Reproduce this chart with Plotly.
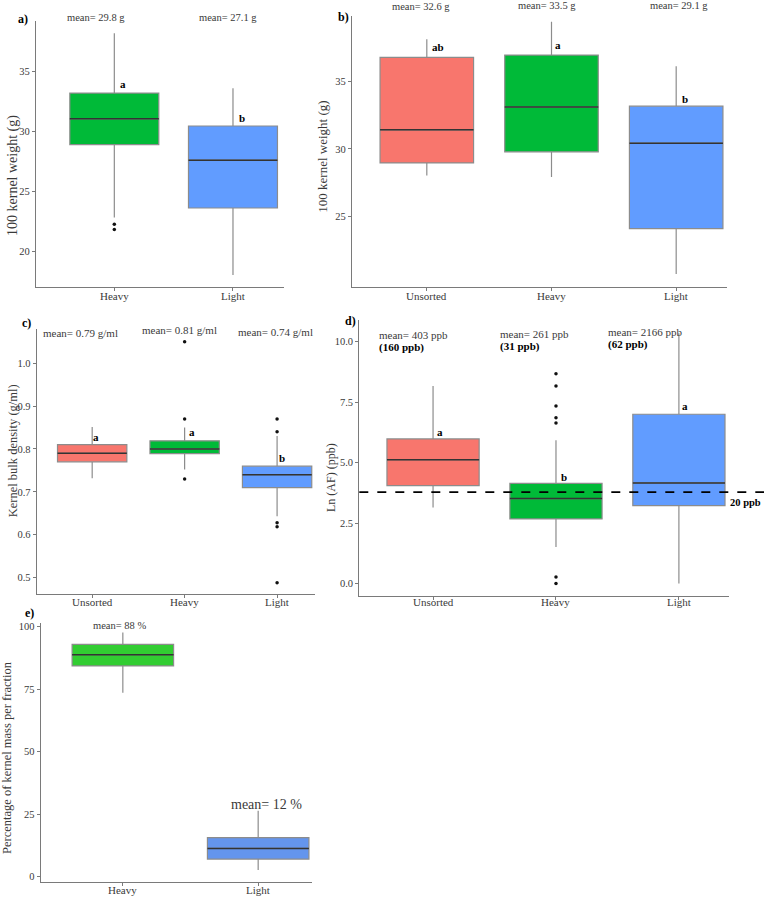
import plotly.graph_objects as go

W, H = 764, 899
def px(x): return x / W
def py(y): return 1 - y / H

FONT = "Liberation Serif"
GRAY = "#8c8c8c"
AXC = "#7a7a7a"
MEDC = "#333333"
TXT = "#3a3a3a"

# ---------------- data ----------------
# a) 100 kernel weight (g)
a_cats = ["Heavy", "Light"]
a_q1 = [28.9, 23.6]
a_med = [31.05, 27.6]
a_q3 = [33.2, 30.45]
a_lo = [22.8, 18.0]
a_hi = [38.2, 33.6]
a_out = [[22.25, 21.8], []]
a_means = ["mean= 29.8 g", "mean= 27.1 g"]
a_letters = ["a", "b"]

# b) 100 kernel weight (g)
b_cats = ["Unsorted", "Heavy", "Light"]
b_q1 = [28.96, 29.78, 24.11]
b_med = [31.4, 33.08, 30.42]
b_q3 = [36.75, 36.92, 33.15]
b_lo = [28.03, 27.93, 20.76]
b_hi = [38.08, 39.38, 36.09]
b_out = [[], [], []]
b_means = ["mean= 32.6 g", "mean= 33.5 g", "mean= 29.1 g"]
b_letters = ["ab", "a", "b"]

# c) Kernel bulk density (g/ml)
c_cats = ["Unsorted", "Heavy", "Light"]
c_q1 = [0.77, 0.789, 0.71]
c_med = [0.79, 0.80, 0.74]
c_q3 = [0.81, 0.819, 0.76]
c_lo = [0.732, 0.752, 0.643]
c_hi = [0.851, 0.85, 0.83]
c_out = [[], [1.05, 0.87, 0.73], [0.87, 0.84, 0.628, 0.619, 0.488]]
c_means = ["mean= 0.79 g/ml", "mean= 0.81 g/ml", "mean= 0.74 g/ml"]
c_letters = ["a", "a", "b"]

# d) Ln (AF) (ppb)
d_cats = ["Unsorted", "Heavy", "Light"]
d_q1 = [4.05, 2.67, 3.22]
d_med = [5.12, 3.51, 4.16]
d_q3 = [5.98, 4.14, 7.0]
d_lo = [3.14, 1.51, 0.0]
d_hi = [8.17, 5.92, 10.35]
d_out = [[], [8.68, 8.17, 7.34, 6.86, 6.64, 0.27, 0.0], []]
d_means = ["mean= 403 ppb", "mean= 261 ppb", "mean= 2166 ppb"]
d_medians_ppb = ["(160 ppb)", "(31 ppb)", "(62 ppb)"]
d_letters = ["a", "b", "a"]
d_limit = 3.78
d_limit_label = "20 ppb"

# e) Percentage of kernel mass per fraction
e_cats = ["Heavy", "Light"]
e_q1 = [84.3, 7.0]
e_med = [88.8, 11.24]
e_q3 = [92.96, 15.6]
e_lo = [73.6, 2.66]
e_hi = [97.7, 26.3]
e_means = ["mean= 88 %", "mean= 12 %"]

RED, GREEN, BLUE = "#F8766D", "#00BA38", "#619CFF"
E_GREEN, E_BLUE = "#32CD32", "#6495ED"

fig = go.Figure()
BW = 0.75

def add_panel(n, cats, colors, q1, med, q3, lo, hi, outs):
    xa = "x" if n == 1 else f"x{n}"
    ya = "y" if n == 1 else f"y{n}"
    for i in range(len(cats)):
        fig.add_trace(go.Box(
            x=[i], q1=[q1[i]], median=[med[i]], q3=[q3[i]],
            lowerfence=[lo[i]], upperfence=[hi[i]],
            width=BW, fillcolor=colors[i],
            line=dict(color=GRAY, width=1.2), whiskerwidth=0,
            boxpoints=False, xaxis=xa, yaxis=ya,
            showlegend=False, hoverinfo="skip"))
        fig.add_trace(go.Scatter(
            x=[i - BW / 2, i + BW / 2], y=[med[i], med[i]], mode="lines",
            line=dict(color=MEDC, width=1.5), xaxis=xa, yaxis=ya,
            showlegend=False, hoverinfo="skip"))
        if outs and outs[i]:
            fig.add_trace(go.Scatter(
                x=[i] * len(outs[i]), y=outs[i], mode="markers",
                marker=dict(color="#111111", size=3.5), xaxis=xa, yaxis=ya,
                showlegend=False, hoverinfo="skip"))

add_panel(1, a_cats, [GREEN, BLUE], a_q1, a_med, a_q3, a_lo, a_hi, a_out)
add_panel(2, b_cats, [RED, GREEN, BLUE], b_q1, b_med, b_q3, b_lo, b_hi, b_out)
add_panel(3, c_cats, [RED, GREEN, BLUE], c_q1, c_med, c_q3, c_lo, c_hi, c_out)
add_panel(4, d_cats, [RED, GREEN, BLUE], d_q1, d_med, d_q3, d_lo, d_hi, d_out)
add_panel(5, e_cats, [E_GREEN, E_BLUE], e_q1, e_med, e_q3, e_lo, e_hi, None)

def xax(dom, rng, cats, yname):
    return dict(domain=[px(dom[0]), px(dom[1])], range=rng,
                tickvals=list(range(len(cats))), ticktext=cats,
                showticklabels=False,
                showline=True, linecolor=AXC, linewidth=1.2,
                ticks="outside", ticklen=3, tickcolor=AXC,
                showgrid=False, zeroline=False, anchor=yname)

def yax(dom, rng, tv, xname, fmt=None):
    d = dict(domain=[py(dom[1]), py(dom[0])], range=rng, tickvals=tv,
             showline=True, linecolor=AXC, linewidth=1.2,
             ticks="outside", ticklen=3, tickcolor=AXC,
             showgrid=False, zeroline=False, anchor=xname,
             tickfont=dict(family=FONT, size=10.5, color=TXT))
    if fmt:
        d["tickformat"] = fmt
    return d

fig.update_layout(
    width=W, height=H, margin=dict(l=0, r=0, t=0, b=0),
    paper_bgcolor="white", plot_bgcolor="white", showlegend=False,
    xaxis=xax((36, 284), [-0.66, 1.43], a_cats, "y"),
    yaxis=yax((20.7, 287), [17.0, 39.25], [20, 25, 30, 35], "x"),
    xaxis2=xax((352, 727.3), [-0.6, 2.41], b_cats, "y2"),
    yaxis2=yax((16, 286.7), [19.83, 39.8], [25, 30, 35], "x2"),
    xaxis3=xax((36.7, 315), [-0.6, 2.41], c_cats, "y3"),
    yaxis3=yax((329.3, 594), [0.462, 1.079], [0.5, 0.6, 0.7, 0.8, 0.9, 1.0], "x3", ".1f"),
    xaxis4=xax((359.3, 729.3), [-0.6, 2.41], d_cats, "y4"),
    yaxis4=yax((320, 596), [-0.52, 10.9], [0, 2.5, 5, 7.5, 10], "x4", ".1f"),
    xaxis5=xax((40.7, 312.3), [-0.607, 1.40], e_cats, "y5"),
    yaxis5=yax((622.7, 882.3), [-2.3, 101.6], [0, 25, 50, 75, 100], "x5"),
)

ann = []
def txt(x, y, s, size=11, bold=False, color=TXT, xanchor="center", angle=0, xref="paper"):
    if bold:
        s = f"<b>{s}</b>"
    ann.append(dict(x=px(x) if xref == "paper" else x, y=py(y), xref=xref, yref="paper",
                    text=s, showarrow=False, xanchor=xanchor, yanchor="middle",
                    font=dict(family=FONT, size=size, color=color), textangle=angle))

# category tick labels (placed as text just under each x axis)
for xr, cats, ypos in [("x", a_cats, 295.5), ("x2", b_cats, 295.5), ("x3", c_cats, 601.5),
                       ("x4", d_cats, 601.5), ("x5", e_cats, 890)]:
    for i, c in enumerate(cats):
        txt(i, ypos, c, 11, xref=xr)

# panel labels
txt(23, 19, "a)", 12, True, "black")
txt(343, 17, "b)", 12, True, "black")
txt(26.7, 323, "c)", 12, True, "black")
txt(350, 320.7, "d)", 12, True, "black")
txt(29.3, 613.3, "e)", 12, True, "black")

# y titles
txt(13, 176, "100 kernel weight (g)", 14, angle=-90)
txt(321.7, 157, "100 kernel weight (g)", 13, angle=-90)
txt(13.3, 451, "Kernel bulk density (g/ml)", 12.5, angle=-90)
txt(331, 478, "Ln (AF) (ppb)", 12, angle=-90)
txt(7, 758, "Percentage of kernel mass per fraction", 12.5, angle=-90)

# a
for s, x in zip(a_means, [95.6, 228]):
    txt(x, 17, s, 10.5)
for s, (x, y) in zip(a_letters, [(122.7, 84), (242.3, 118)]):
    txt(x, y, s, 11, True, "black")
# b
for s, (x, y) in zip(b_means, [(420.7, 6.7), (546.7, 5), (679, 6)]):
    txt(x, y, s, 10.5)
for s, (x, y) in zip(b_letters, [(437.7, 47.3), (558.3, 45), (685.3, 99)]):
    txt(x, y, s, 11, True, "black")
# c
for s, (x, y) in zip(c_means, [(80.8, 332.7), (179, 330), (275.5, 332)]):
    txt(x, y, s, 11)
for s, (x, y) in zip(c_letters, [(96.3, 437), (192, 432.3), (282.3, 458.3)]):
    txt(x, y, s, 11, True, "black")
# d
for s, m, (x, y) in zip(d_means, d_medians_ppb, [(376.7, 335), (497.7, 334), (605.7, 332.3)]):
    txt(x, y, s, 11, xanchor="left")
    txt(x, y + 12.5, m, 11, True, "black", xanchor="left")
for s, (x, y) in zip(d_letters, [(439.7, 432.3), (564, 477.3), (685.3, 406)]):
    txt(x, y, s, 11, True, "black")
txt(762.5, 502.3, d_limit_label, 10.5, True, "black", xanchor="right")
# e
txt(119.7, 625.7, e_means[0], 10.5)
txt(266.3, 804, e_means[1], 14)

fig.update_layout(annotations=ann)
fig.add_shape(type="line", xref="paper", yref="y4", x0=px(359.3), x1=1.0,
              y0=d_limit, y1=d_limit, line=dict(color="black", width=1.8, dash="dash"))

fig.write_html("out.html", config={"displayModeBar": False},
               post_script="document.body.style.margin='0px';")
